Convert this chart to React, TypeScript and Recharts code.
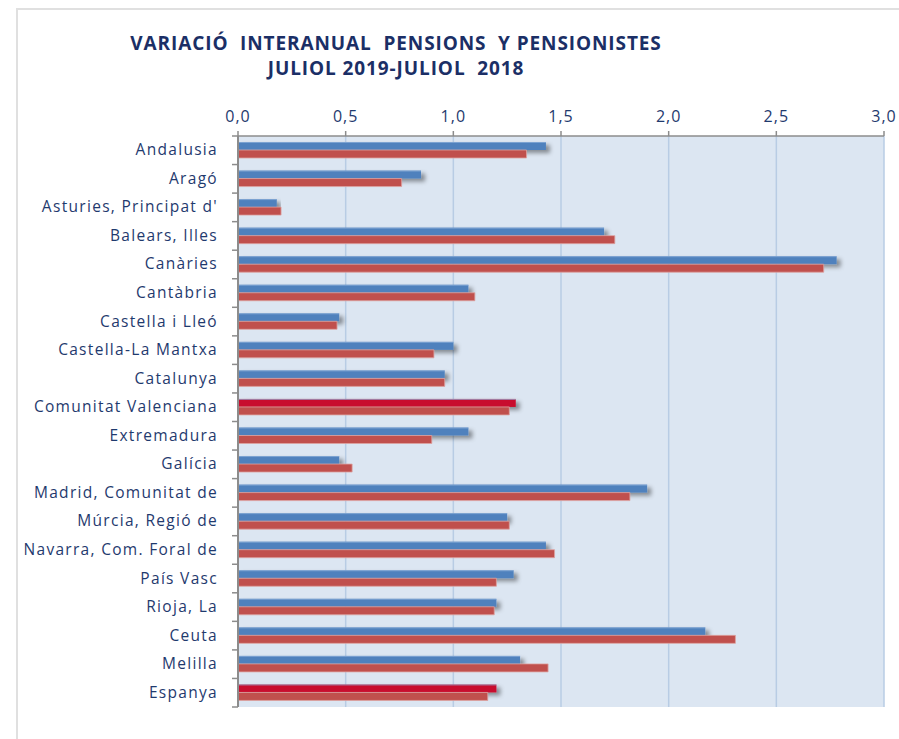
import React from 'react';
import { Bar, BarChart, CartesianGrid, Cell, XAxis, YAxis } from 'recharts';

// Variació interanual pensions / pensionistes per comunitat, juliol 2019 vs juliol 2018.

const categories = [
  'Andalusia',
  'Aragó',
  "Asturies, Principat d'",
  'Balears, Illes',
  'Canàries',
  'Cantàbria',
  'Castella i Lleó',
  'Castella-La Mantxa',
  'Catalunya',
  'Comunitat Valenciana',
  'Extremadura',
  'Galícia',
  'Madrid, Comunitat de',
  'Múrcia, Regió de',
  'Navarra, Com. Foral de',
  'País Vasc',
  'Rioja, La',
  'Ceuta',
  'Melilla',
  'Espanya',
];

const pensions = [
  1.43, 0.85, 0.18, 1.7, 2.78, 1.07, 0.47, 1.0, 0.96, 1.29,
  1.07, 0.47, 1.9, 1.25, 1.43, 1.28, 1.2, 2.17, 1.31, 1.2,
];

const pensionistes = [
  1.34, 0.76, 0.2, 1.75, 2.72, 1.1, 0.46, 0.91, 0.96, 1.26,
  0.9, 0.53, 1.82, 1.26, 1.47, 1.2, 1.19, 2.31, 1.44, 1.16,
];

const highlighted = ['Comunitat Valenciana', 'Espanya'];
const xTicks = [0, 0.5, 1, 1.5, 2, 2.5, 3];

const INK = '#1F3A6E';
const AXIS = '#8C8C8C';
const BLUE = '#4F81BD';
const CRIMSON = '#C8102E';
const RED = '#C0504D';

const PLOT_TOP = 136;
const PLOT_BOTTOM = 707;
const BAND = (PLOT_BOTTOM - PLOT_TOP) / categories.length;

const data = categories.map((name, i) => ({
  name,
  pensions: pensions[i],
  pensionistes: pensionistes[i],
}));

function CategoryTick(props: any) {
  const { x, y, payload, index } = props;
  const axisX = x + 20;
  return (
    <g>
      <text
        x={x}
        y={y}
        dy={5}
        textAnchor="end"
        fill={INK}
        fontSize={15.5}
        letterSpacing={1.3}
        fontFamily="'Open Sans', sans-serif"
      >
        {payload.value}
      </text>
      <line x1={axisX - 6} x2={axisX} y1={y - BAND / 2} y2={y - BAND / 2} stroke={AXIS} strokeWidth={1.5} />
      {index === categories.length - 1 && (
        <line x1={axisX - 6} x2={axisX} y1={y + BAND / 2} y2={y + BAND / 2} stroke={AXIS} strokeWidth={1.5} />
      )}
    </g>
  );
}

function ShadowBar(props: any) {
  const { x, y, width, height, fill } = props;
  if (!width || width <= 0) return null;
  return (
    <g>
      <rect x={x} y={y} width={width} height={height} fill={fill} filter="url(#barShadow)" />
      <rect x={x} y={y} width={width} height={1} fill="#8FB0DA" opacity={0.7} />
    </g>
  );
}

export default function App() {
  return (
    <div style={{ position: 'absolute', left: 0, top: 0, width: 899, height: 739, background: '#fff' }}>
      <div
        style={{
          position: 'absolute',
          left: 16,
          top: 8,
          width: 900,
          height: 760,
          borderLeft: '2px solid #E0E0E0',
          borderTop: '2px solid #E0E0E0',
        }}
      />
      <div
        style={{
          position: 'absolute',
          left: 0,
          top: 31,
          width: 792,
          textAlign: 'center',
          color: '#1B2F66',
          fontFamily: "'Open Sans', sans-serif",
          fontWeight: 700,
          fontSize: 19,
          letterSpacing: 0.9,
          lineHeight: '25px',
          whiteSpace: 'pre',
        }}
      >
        {'VARIACIÓ  INTERANUAL  PENSIONS  Y PENSIONISTES\nJULIOL 2019-JULIOL  2018'}
      </div>
      <div style={{ position: 'absolute', left: 0, top: 0 }}>
        <BarChart
          width={899}
          height={739}
          data={data}
          layout="vertical"
          margin={{ top: PLOT_TOP - 30, right: 15, bottom: 739 - PLOT_BOTTOM, left: 18 }}
          barGap={0}
          barSize={8}
        >
          <defs>
            <filter id="barShadow" x="-5%" y="-60%" width="115%" height="260%">
              <feDropShadow dx={4} dy={3} stdDeviation={2} floodColor="#000" floodOpacity={0.4} />
            </filter>
          </defs>
          <CartesianGrid
            horizontal={false}
            stroke="#B8CCE4"
            strokeWidth={1.5}
            fill="#DCE6F2"
            verticalValues={xTicks}
          />
          <XAxis
            type="number"
            orientation="top"
            domain={[0, 3]}
            ticks={xTicks}
            interval={0}
            height={30}
            tickFormatter={(v: number) => v.toFixed(1).replace('.', ',')}
            tick={{ fill: INK, fontSize: 16, letterSpacing: 1, fontFamily: "'Open Sans', sans-serif" }}
            tickSize={5}
            tickMargin={9}
            axisLine={{ stroke: AXIS, strokeWidth: 1.5 }}
            tickLine={{ stroke: AXIS, strokeWidth: 1.5 }}
          />
          <YAxis
            type="category"
            dataKey="name"
            width={220}
            interval={0}
            tickSize={0}
            tickMargin={20}
            tickLine={false}
            axisLine={{ stroke: AXIS, strokeWidth: 2 }}
            tick={<CategoryTick />}
          />
          <Bar dataKey="pensions" fill={BLUE} shape={<ShadowBar />} isAnimationActive={false}>
            {data.map((d) => (
              <Cell key={d.name} fill={highlighted.includes(d.name) ? CRIMSON : BLUE} />
            ))}
          </Bar>
          <Bar
            dataKey="pensionistes"
            fill={RED}
            stroke="#DDA3A1"
            strokeWidth={0.8}
            isAnimationActive={false}
          />
        </BarChart>
      </div>
    </div>
  );
}
